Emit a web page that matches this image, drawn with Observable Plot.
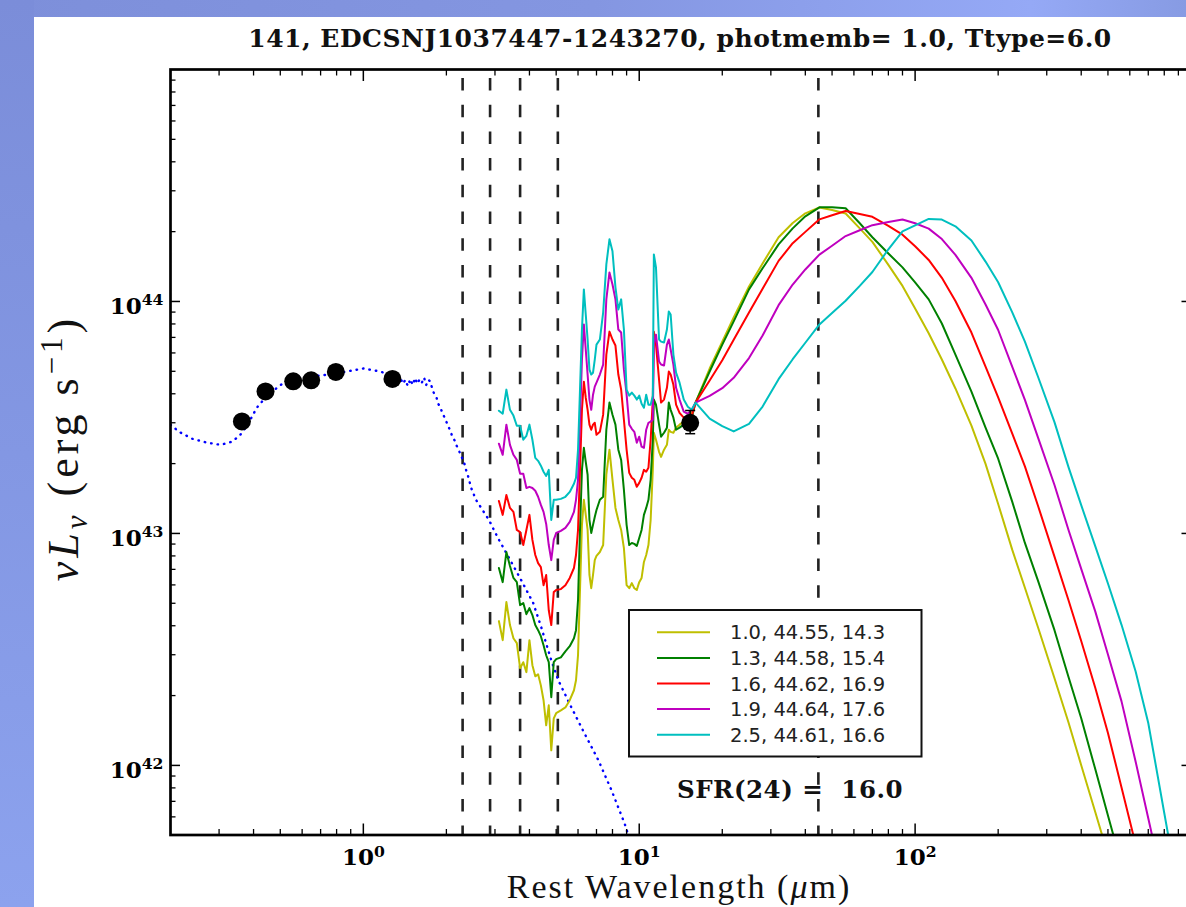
<!DOCTYPE html>
<html>
<head>
<meta charset="utf-8">
<script src="https://cdn.jsdelivr.net/npm/d3@7"></script>
<script src="https://cdn.jsdelivr.net/npm/@observablehq/plot@0.6"></script>
<style>
  html, body { margin:0; padding:0; }
  body { width:1186px; height:907px; overflow:hidden; position:relative;
    background: linear-gradient(90deg, #7d8fda 0%, #8496e1 50%, #95a9f6 87%, #879be3 100%); }
  #leftband { position:absolute; left:0; top:0; width:34px; height:907px;
    background: linear-gradient(180deg, #7b8dd9 0%, #8397e3 50%, #8ca2ee 100%); }
  #panel { position:absolute; left:34px; top:17px; width:1152px; height:890px; background:#fff; }
  #chart { position:absolute; left:0; top:0; }
</style>
</head>
<body>
<div id="leftband"></div>
<div id="panel"></div>
<div id="chart"></div>
<script>
// ---------- data ----------
// rest wavelength grids (micron)
const mirWave = [3.1,3.2,3.3,3.4,3.5,3.6,3.7,3.8,3.9,4.0,4.1,4.2,4.3,4.4,4.5,4.6,4.7,4.8,4.9,5.0,
  5.2,5.4,5.6,5.8,5.9,6.0,6.1,6.2,6.3,6.4,6.5,6.6,6.7,6.8,6.9,7.0,7.2,7.4,7.6,7.8,8.0,8.2,8.4,8.6,8.8,9.0,
  9.2,9.4,9.6,9.8,10.0,10.2,10.4,10.6,10.8,11.0,11.2,11.3,11.5,11.8,12.0,12.3,12.6,12.8,13.0,13.3,13.6,
  14.0,14.5,15.0,15.5,16.0];
const firWave = [18,20,22,25,28,32,36,40,45,50,56,63,70,80,90,100,112,125,140,160,180,200,225,250,280,
  320,360,400,450,500,560,630,700,800,900];

// log10 nuL_nu (erg/s) of the five IR templates
const mirLogL_a10 = [42.622,42.540,42.704,42.605,42.548,42.527,42.419,42.445,42.402,42.540,
 42.432,42.384,42.393,42.345,42.281,42.173,42.259,42.065,42.203,42.225,
 42.237,42.250,42.281,42.324,42.367,42.475,42.756,43.037,43.145,43.080,
 43.015,42.821,42.764,42.821,42.885,42.903,42.920,42.950,43.253,43.361,
 43.231,43.110,43.058,43.015,42.937,42.777,42.764,42.786,42.764,42.756,
 42.790,42.808,42.877,42.907,42.950,43.058,43.274,43.434,43.404,43.352,
 43.330,43.361,43.382,43.447,43.438,43.434,43.456,43.469,43.482,43.499,
 43.525,43.564];
const firLogL_a10 = [43.711,43.827,43.931,44.065,44.164,44.277,44.338,44.380,44.405,44.394,44.379,44.315,
 44.257,44.158,44.067,43.970,43.863,43.750,43.625,43.465,43.300,43.127,42.929,42.766,42.589,42.376,42.184,
 42.001,41.798,41.615];

const mirLogL_a13 = [42.851,42.790,42.920,42.860,42.808,42.790,42.691,42.700,42.652,42.678,
 42.648,42.605,42.583,42.557,42.518,42.475,42.445,42.294,42.445,42.458,
 42.466,42.492,42.514,42.548,42.583,42.713,43.015,43.274,43.369,43.309,
 43.253,43.058,43.002,43.037,43.071,43.101,43.145,43.158,43.447,43.564,
 43.512,43.469,43.361,43.317,43.188,43.037,42.950,42.959,42.955,42.946,
 42.980,43.015,43.080,43.110,43.145,43.231,43.404,43.577,43.555,43.469,
 43.417,43.434,43.456,43.564,43.533,43.499,43.447,43.456,43.469,43.482,
 43.499,43.564];
const firLogL_a13 = [43.698,43.814,43.914,44.052,44.143,44.246,44.315,44.367,44.406,44.406,44.402,44.337,
 44.277,44.207,44.147,44.082,44.009,43.905,43.771,43.611,43.456,43.322,43.136,42.959,42.790,42.583,42.380,
 42.203,41.983,41.784,41.572];

const mirLogL_a16 = [43.140,43.080,43.166,43.110,43.093,43.015,43.006,42.950,43.015,43.080,
 42.972,42.907,42.872,42.855,42.777,42.821,42.669,42.605,42.747,42.756,
 42.760,42.777,42.808,42.851,42.907,43.015,43.274,43.533,43.654,43.585,
 43.533,43.469,43.447,43.469,43.477,43.425,43.438,43.512,43.771,43.870,
 43.836,43.810,43.685,43.620,43.490,43.361,43.261,43.240,43.231,43.201,
 43.218,43.240,43.274,43.266,43.283,43.404,43.577,43.870,43.814,43.663,
 43.564,43.577,43.628,43.698,43.685,43.641,43.555,43.520,43.499,43.490,
 43.508,43.564];
const firLogL_a16 = [43.659,43.747,43.835,43.952,44.055,44.175,44.251,44.300,44.354,44.372,44.390,44.377,
 44.365,44.326,44.288,44.238,44.179,44.102,44.002,43.866,43.719,43.587,43.430,43.289,43.113,42.900,42.711,
 42.536,42.334,42.140,41.905,41.659];

const mirLogL_a19 = [43.387,43.339,43.469,43.382,43.339,43.317,43.257,43.257,43.196,43.201,
 43.196,43.184,43.158,43.123,43.093,43.041,42.950,42.885,42.972,43.002,
 43.011,43.024,43.050,43.093,43.145,43.231,43.490,43.749,43.901,43.793,
 43.685,43.577,43.533,43.598,43.633,43.650,43.685,43.728,44.009,44.125,
 44.073,44.009,43.879,43.866,43.706,43.598,43.469,43.451,43.438,43.391,
 43.417,43.374,43.369,43.447,43.477,43.482,43.490,43.814,43.857,43.741,
 43.728,43.724,43.814,43.836,43.793,43.728,43.628,43.577,43.525,43.516,
 43.533,43.564];
const firLogL_a19 = [43.593,43.626,43.671,43.756,43.853,43.984,44.073,44.138,44.202,44.240,44.282,44.307,
 44.329,44.343,44.353,44.337,44.314,44.269,44.201,44.102,43.987,43.877,43.718,43.576,43.408,43.209,43.014,
 42.847,42.663,42.478,42.276,42.016,41.772,41.464];

const mirLogL_a25 = [43.529,43.516,43.620,43.533,43.508,43.464,43.464,43.404,43.421,43.469,
 43.404,43.326,43.313,43.292,43.266,43.248,43.274,43.058,43.145,43.145,
 43.149,43.158,43.179,43.214,43.240,43.361,43.620,43.879,44.052,43.944,
 43.836,43.706,43.685,43.693,43.749,43.814,43.836,43.952,44.160,44.268,
 44.216,44.061,43.965,44.009,43.879,43.620,43.594,43.607,43.594,43.577,
 43.594,43.559,43.542,43.598,43.555,43.555,43.594,44.203,44.147,43.836,
 43.827,43.823,43.879,43.957,43.944,43.771,43.693,43.650,43.577,43.546,
 43.533,43.564];
const firLogL_a25 = [43.495,43.463,43.440,43.472,43.547,43.665,43.751,43.822,43.901,43.950,44.003,44.067,
 44.127,44.225,44.302,44.328,44.356,44.353,44.324,44.263,44.172,44.083,43.953,43.827,43.670,43.480,43.285,
 43.122,42.944,42.784,42.606,42.405,42.183,41.795,41.453];

const modelLabels = ["1.0, 44.55, 14.3", "1.3, 44.58, 15.4", "1.6, 44.62, 16.9", "1.9, 44.64, 17.6", "2.5, 44.61, 16.6"];
const modelColors = ["#bfbf00", "#008000", "#ff0000", "#bf00bf", "#00bfbf"];

// stellar template (blue dotted)
const stellarWave = [0.200,0.215,0.240,0.272,0.304,0.333,0.356,0.381,0.411,0.451,0.520,0.589,0.697,0.825,1.000,
  1.153,1.275,1.30,1.33,1.36,1.39,1.42,1.45,1.48,1.51,1.54,1.57,1.60,1.63,1.66,1.69,1.72,1.75,
  1.78,1.81,1.84,1.87,1.90,1.93,1.96,1.99,2.02,2.05,2.08,2.11,2.14,2.17,2.20,2.23,2.26,2.29,2.32,2.35,
  2.38,2.41,2.44,2.47,2.50,2.53,2.56,2.853,3.077,3.375,3.732,4.128,4.414,4.800,5.089,5.677,6.332,7.120,
  7.940,8.855,9.390];
const stellarLogL = [43.469,43.438,43.408,43.391,43.382,43.395,43.421,43.469,43.542,43.598,43.654,43.676,43.680,
  43.693,43.711,43.698,43.680,43.670,43.660,43.675,43.645,43.662,43.635,43.665,43.640,43.670,43.645,43.665,
  43.650,43.672,43.640,43.662,43.655,
  43.620,43.600,43.588,43.558,43.545,43.522,43.505,43.488,43.468,43.452,43.433,43.412,43.402,43.382,43.368,
  43.352,43.338,43.318,43.306,43.278,43.258,43.238,43.212,43.190,43.178,43.158,43.145,
  43.058,42.980,42.894,42.799,42.700,42.596,42.453,42.367,42.250,42.138,42.021,41.892,41.749,41.654];

// photometry
const photWave = [0.363, 0.442, 0.557, 0.647, 0.795, 1.275, 15.3];
const photLogL = [43.483, 43.612, 43.656, 43.660, 43.696, 43.666, 43.477];
const errWave = [15.3];
const errLogLo = [43.43];
const errLogHi = [43.53];

// band positions (dashed verticals)
const bandWave = [2.29, 2.88, 3.70, 5.07, 44.6];

// ticks
const xMajor = [1, 10, 100];
const xTickLabels = ["10^0", "10^1", "10^2"];
const xMinor = [0.3,0.4,0.5,0.6,0.7,0.8,0.9,2,3,4,5,6,7,8,9,20,30,40,50,60,70,80,90,200,300,400,500,600,700,800,900];
const yMajor = [1e42, 1e43, 1e44];
const yTickLabels = ["10^42", "10^43", "10^44"];
const yMinor = [6e41,7e41,8e41,9e41,2e42,3e42,4e42,5e42,6e42,7e42,8e42,9e42,2e43,3e43,4e43,5e43,6e43,7e43,8e43,9e43,
  2e44,3e44,4e44,5e44,6e44,7e44,8e44,9e44];

const titleText = "141, EDCSNJ1037447-1243270, photmemb= 1.0, Ttype=6.0";
const sfrText = "SFR(24) =  16.0";

// ---------- tables ----------
const modelMir = [mirLogL_a10, mirLogL_a13, mirLogL_a16, mirLogL_a19, mirLogL_a25];
const modelFir = [firLogL_a10, firLogL_a13, firLogL_a16, firLogL_a19, firLogL_a25];
const modelRows = modelLabels.map((label, k) => [
  ...mirWave.map((w, i) => ({w, L: 10 ** modelMir[k][i]})),
  ...modelFir[k].map((v, i) => ({w: firWave[i], L: 10 ** v}))
]);
const stellarRows = stellarWave.map((w, i) => ({w, L: 10 ** stellarLogL[i]}));
const photRows = photWave.map((w, i) => ({w, L: 10 ** photLogL[i]}));
const errRows = errWave.map((w, i) => ({w, lo: 10 ** errLogLo[i], hi: 10 ** errLogHi[i]}));
const capRows = errRows.flatMap(d => [{w: d.w, L: d.lo}, {w: d.w, L: d.hi}]);

const xLabelOf = new Map(xMajor.map((v, i) => [v, xTickLabels[i]]));
const yLabelOf = new Map(yMajor.map((v, i) => [v, yTickLabels[i]]));

const capSymbol = {draw(ctx, size) { const h = Math.sqrt(size / Math.PI); ctx.moveTo(-h, 0); ctx.lineTo(h, 0); }};

const tickFont = {fontFamily: "DejaVu Serif", fontWeight: "bold", fontSize: 23, fill: "black"};

const chart = Plot.plot({
  width: 1191, height: 907,
  marginLeft: 170, marginRight: 0.5, marginTop: 69, marginBottom: 72.5,
  style: {background: "transparent", maxWidth: "none", overflow: "visible"},
  x: {type: "log", domain: [0.2, 1000], label: null},
  y: {type: "log", domain: [10 ** 41.7, 1e45], label: null},
  marks: [
    Plot.ruleX(bandWave, {stroke: "#222", strokeWidth: 2.6, strokeDasharray: "12.5,14.2", strokeDashoffset: 17.7}),
    Plot.line(stellarRows, {x: "w", y: "L", stroke: "#0000ff", strokeWidth: 2.4, strokeDasharray: "0.5,6", strokeLinecap: "round", clip: true}),
    ...modelRows.map((rows, k) => Plot.line(rows, {x: "w", y: "L", stroke: modelColors[k], strokeWidth: 2, clip: true})),
    Plot.ruleX(errRows, {x: "w", y1: "lo", y2: "hi", stroke: "black", strokeWidth: 1.5}),
    Plot.dot(capRows, {x: "w", y: "L", r: 5, symbol: capSymbol, stroke: "black", strokeWidth: 1.5}),
    Plot.dot(photRows, {x: "w", y: "L", r: 9, fill: "black"}),
    // inward ticks on all four sides
    Plot.axisX(xMajor, {anchor: "bottom", tickSize: -11, strokeWidth: 1.5, fill: "none", label: null}),
    Plot.axisX(xMinor, {anchor: "bottom", tickSize: -5.5, strokeWidth: 1.3, fill: "none", label: null}),
    Plot.axisX(xMajor, {anchor: "top", tickSize: -11, strokeWidth: 1.5, fill: "none", label: null}),
    Plot.axisX(xMinor, {anchor: "top", tickSize: -5.5, strokeWidth: 1.3, fill: "none", label: null}),
    Plot.axisY(yMajor, {anchor: "left", tickSize: -10, strokeWidth: 1.5, fill: "none", label: null}),
    Plot.axisY(yMinor, {anchor: "left", tickSize: -5.5, strokeWidth: 1.3, fill: "none", label: null}),
    Plot.axisY(yMajor, {anchor: "right", tickSize: -10, strokeWidth: 1.5, fill: "none", label: null}),
    Plot.axisY(yMinor, {anchor: "right", tickSize: -5.5, strokeWidth: 1.3, fill: "none", label: null}),
    // tick labels
    Plot.axisX(xMajor, {anchor: "bottom", tickSize: 0, stroke: "none", tickPadding: 14, tickFormat: d => xLabelOf.get(d), label: null, ...tickFont}),
    Plot.axisY(yMajor, {anchor: "left", tickSize: 0, stroke: "none", tickPadding: 7, dy: 5, tickFormat: d => yLabelOf.get(d), label: null, ...tickFont}),
    Plot.frame({stroke: "black", strokeWidth: 2.7})
  ]
});
document.getElementById("chart").appendChild(chart);

// superscript exponents in tick labels
const NS = "http://www.w3.org/2000/svg";
chart.querySelectorAll('g[aria-label="x-axis tick label"] text, g[aria-label="y-axis tick label"] text').forEach(t => {
  const s = t.textContent;
  if (!s.includes("^")) return;
  const [b, e] = s.split("^");
  t.textContent = "";
  const t1 = document.createElementNS(NS, "tspan"); t1.textContent = b;
  const t2 = document.createElementNS(NS, "tspan"); t2.textContent = e;
  t2.setAttribute("dy", "-0.55em"); t2.setAttribute("font-size", "0.68em");
  t.append(t1, t2);
});

// ---------- overlay: title, axis labels, legend, annotation ----------
const ov = d3.select("body").append("svg")
  .attr("width", 1186).attr("height", 907)
  .style("position", "absolute").style("left", "0px").style("top", "0px");

ov.append("text").attr("x", 680).attr("y", 47).attr("text-anchor", "middle")
  .attr("font-family", "DejaVu Serif").attr("font-weight", "bold").attr("font-size", 25)
  .attr("letter-spacing", 0.5).attr("fill", "#111").text(titleText);

const xl = ov.append("text").attr("x", 679).attr("y", 898).attr("text-anchor", "middle")
  .attr("font-family", "Liberation Serif").attr("font-size", 34).attr("letter-spacing", 2)
  .attr("fill", "#111");
xl.append("tspan").text("Rest Wavelength (");
xl.append("tspan").attr("font-style", "italic").text("μ");
xl.append("tspan").text("m)");

const yl = ov.append("g").attr("transform", "translate(78,448) rotate(-90)")
  .append("text").attr("text-anchor", "middle")
  .attr("font-family", "Liberation Serif").attr("font-size", 44).attr("letter-spacing", 4)
  .attr("fill", "#111");
yl.append("tspan").attr("font-style", "italic").text("νL");
yl.append("tspan").attr("font-style", "italic").attr("font-size", 31).attr("dy", 9).text("ν");
yl.append("tspan").attr("dy", -9).text(" (erg s");
yl.append("tspan").attr("font-size", 31).attr("dy", -16).text("−1");
yl.append("tspan").attr("dy", 16).text(")");

// legend
const lg = ov.append("g");
lg.append("rect").attr("x", 629).attr("y", 610).attr("width", 292.5).attr("height", 146.5)
  .attr("fill", "white").attr("stroke", "#111").attr("stroke-width", 2);
modelLabels.forEach((lab, k) => {
  const y = 632.3 + k * 25.6;
  lg.append("line").attr("x1", 657).attr("x2", 710).attr("y1", y).attr("y2", y)
    .attr("stroke", modelColors[k]).attr("stroke-width", 2);
  lg.append("text").attr("x", 730).attr("y", y + 7)
    .attr("font-family", "DejaVu Sans").attr("font-size", 19.5).attr("fill", "#222").text(lab);
});

ov.append("text").attr("x", 677).attr("y", 798).attr("xml:space", "preserve")
  .style("white-space", "pre")
  .attr("font-family", "DejaVu Serif").attr("font-weight", "bold").attr("font-size", 24.5)
  .attr("letter-spacing", 0.5).attr("fill", "#111").text(sfrText);
</script>
</body>
</html>
